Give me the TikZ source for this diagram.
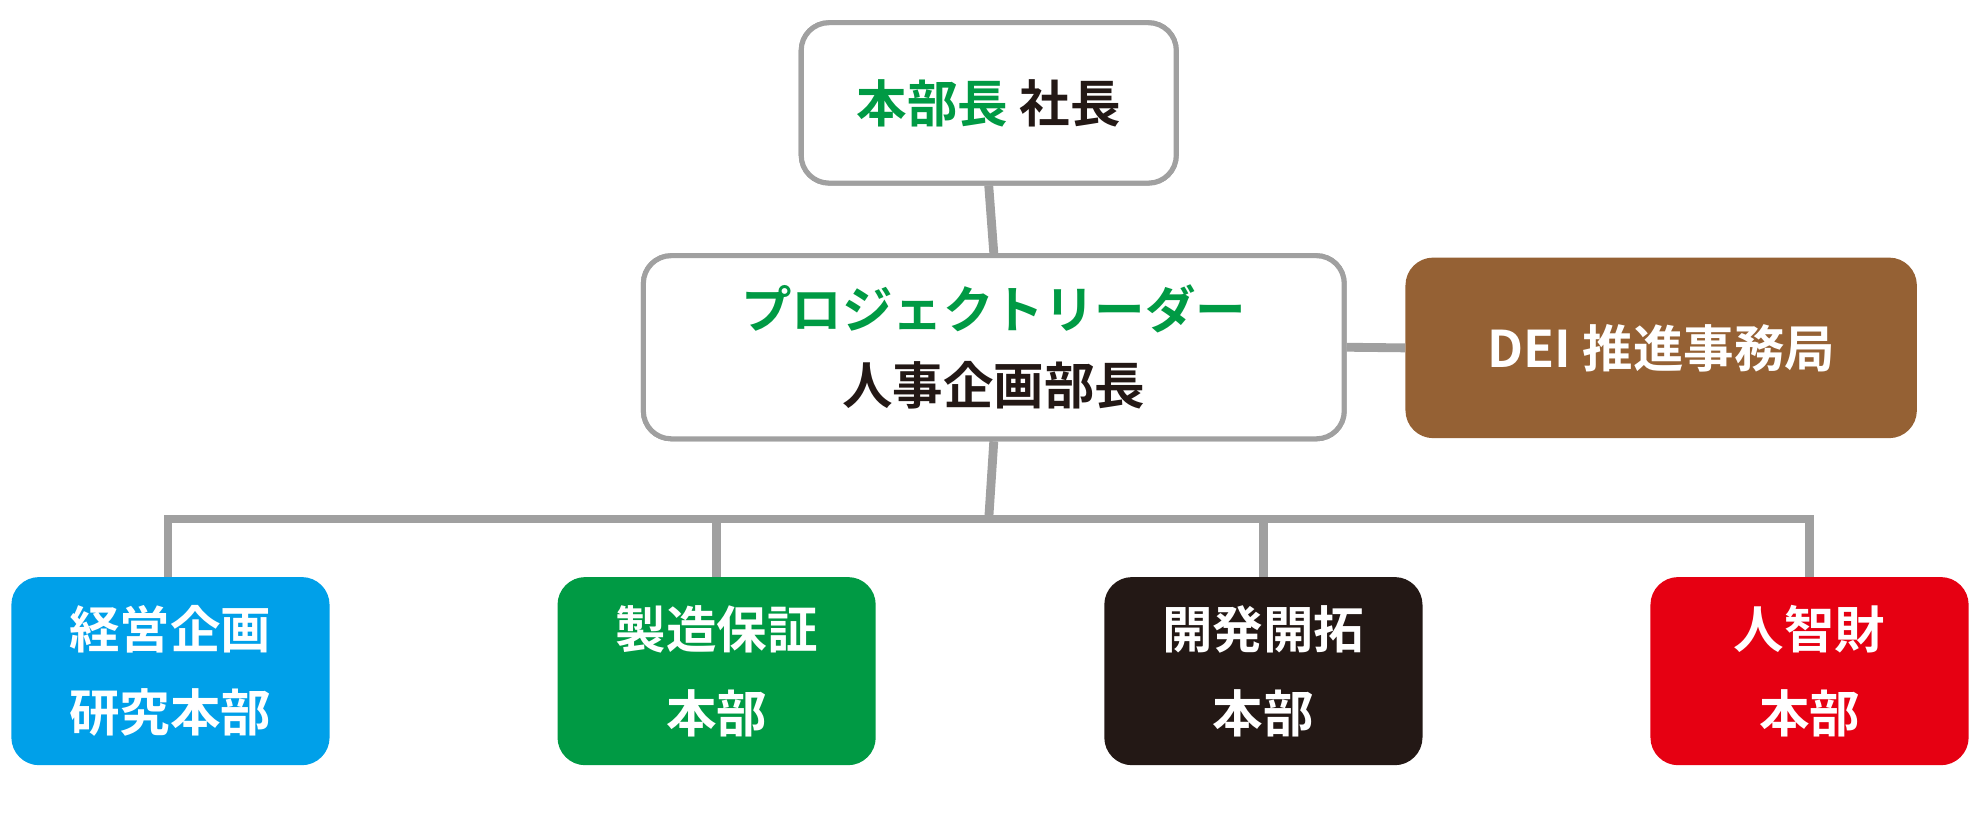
\documentclass[tikz,border=0pt]{standalone}
\usepackage{fontspec}
\newfontfamily\jp{Noto Sans CJK JP Bold}
\usetikzlibrary{positioning}
\definecolor{linegray}{HTML}{A0A0A0}
\definecolor{leadgreen}{HTML}{009A44}
\definecolor{deibrown}{HTML}{956134}
\definecolor{plancyan}{HTML}{00A0E9}
\definecolor{devblack}{HTML}{231815}
\definecolor{hrred}{HTML}{E60012}
\tikzset{
  x=1pt,y=1pt,
  headbox/.style={draw=linegray,line width=4pt,fill=white,rounded corners=22pt,
    align=center,font=\jp\fontsize{40}{60}\selectfont,text=devblack,inner sep=0pt},
  unitbox/.style={rounded corners=22pt,minimum width=252pt,minimum height=149pt,
    align=center,text=white,font=\jp\fontsize{40}{66}\selectfont,inner sep=0pt},
  link/.style={draw=linegray,line width=7pt}
}
\begin{document}
\begin{tikzpicture}
\useasboundingbox (0,0) rectangle (1568,644);
% the head boxes
\node[headbox,minimum width=297pt,minimum height=127pt] (ceo) at (783,562.5)
  {{\color{leadgreen}本部長} 社長};
\node[headbox,minimum width=555pt,minimum height=145pt] (lead) at (787,369)
  {{\color{leadgreen}プロジェクトリーダー}\\人事企画部長};
\node[unitbox,fill=deibrown,minimum width=405pt,minimum height=143pt] (dei) at (1315.5,368.5)
  {DEI 推進事務局};
% the units
\foreach \name/\col/\cx/\txt in {plan/plancyan/135/{経営企画\\研究本部},
    quality/leadgreen/567.5/{製造保証\\本部},
    dev/devblack/1000.5/{開発開拓\\本部},
    hr/hrred/1433/{人智財\\本部}}
{
  \node[unitbox,fill=\col] (\name) at (\cx,112.5) {\txt};
}
% the links
\coordinate (bus) at (783,233);
\begin{scope}[on background layer/.try]
\draw[link] (ceo.south) -- (lead.north);
\draw[link] (lead.east) -- (dei.west);
\draw[link] (lead.south) -- (bus);
\draw[link] (plan.north -| 133,0) |- (bus) -| (hr.north);
\draw[link] (quality.north) -- (quality.north |- bus);
\draw[link] (dev.north) -- (dev.north |- bus);
\end{scope}
\node[headbox,minimum width=297pt,minimum height=127pt] at (ceo) {{\color{leadgreen}本部長} 社長};
\node[headbox,minimum width=555pt,minimum height=145pt] at (lead) {{\color{leadgreen}プロジェクトリーダー}\\人事企画部長};
\end{tikzpicture}
\end{document}
